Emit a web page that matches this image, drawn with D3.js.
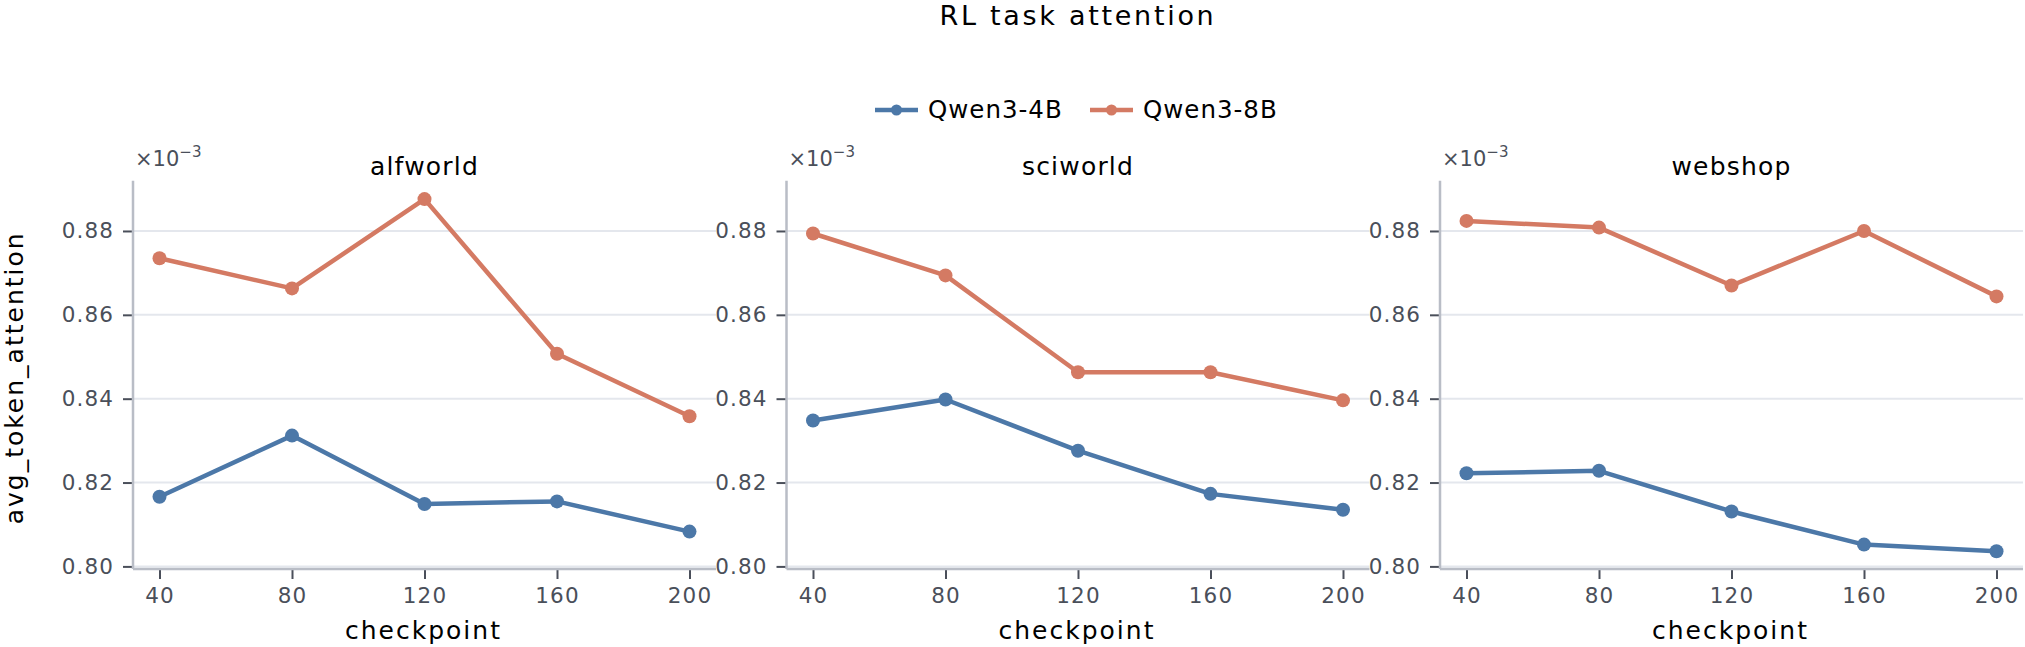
<!DOCTYPE html>
<html>
<head>
<meta charset="utf-8">
<script src="https://cdn.jsdelivr.net/npm/d3@7"></script>
<style>
  body { margin: 0; background: #fff; }
  svg { display: block; font-family: "DejaVu Sans", sans-serif; }
</style>
</head>
<body>
<svg id="svg1" width="2025" height="647"></svg>
<script>
// data (values shown in units of 1e-3)
var checkpoints = [40, 80, 120, 160, 200];
var tasks = ['alfworld', 'sciworld', 'webshop'];
var models = ['Qwen3-4B', 'Qwen3-8B'];

var alfworld4B = [0.8166, 0.8312, 0.8149, 0.8155, 0.8083];
var alfworld8B = [0.8735, 0.8663, 0.8876, 0.8507, 0.8358];
var sciworld4B = [0.8348, 0.8398, 0.8276, 0.8173, 0.8135];
var sciworld8B = [0.8794, 0.8694, 0.8463, 0.8463, 0.8396];
var webshop4B = [0.8222, 0.8228, 0.8131, 0.8052, 0.8036];
var webshop8B = [0.8824, 0.8808, 0.8670, 0.8800, 0.8644];

var yTicks = [0.80, 0.82, 0.84, 0.86, 0.88];

var seriesByTask = {
  alfworld: [alfworld4B, alfworld8B],
  sciworld: [sciworld4B, sciworld8B],
  webshop: [webshop4B, webshop8B]
};

var colors = ['#4c78a8', '#d47a63'];

var svg = d3.select('svg');

var panelLeft = 133, panelStep = 653.5, panelW = 583;
var plotTop = 180.7, plotH = 388.3;

var x = d3.scaleLinear().domain([32, 208]).range([0, panelW]);
var y = d3.scaleLinear().domain([0.79938, 0.89199]).range([plotH, 0]);

var line = d3.line()
    .x(function(d, i){ return x(checkpoints[i]); })
    .y(function(d){ return y(d); });

// main title
svg.append('text')
    .attr('x', 1078).attr('y', 25)
    .attr('text-anchor', 'middle')
    .style('font-size', '27px')
    .style('letter-spacing', '2.7px')
    .text('RL task attention');

// legend
var legend = svg.selectAll('.legend')
    .data(models)
    .enter()
    .append('g')
    .attr('class', 'legend')
    .attr('transform', function(d, i){ return 'translate(' + (875 + i * 215) + ',110)'; });

legend.append('line')
    .attr('x1', 0).attr('x2', 43)
    .attr('stroke', function(d, i){ return colors[i]; })
    .attr('stroke-width', 4.5);
legend.append('circle')
    .attr('cx', 21.5).attr('r', 5.5)
    .attr('fill', function(d, i){ return colors[i]; });
legend.append('text')
    .attr('x', 53).attr('y', 8)
    .style('font-size', '24.5px')
    .style('letter-spacing', '1px')
    .text(function(d){ return d; });

tasks.forEach(function(task, ti){
    var g = svg.append('g')
        .attr('transform', 'translate(' + (panelLeft + ti * panelStep) + ',' + plotTop + ')');

    // grid
    g.selectAll('.grid')
        .data(yTicks)
        .enter()
        .append('line')
        .attr('x1', 0).attr('x2', panelW)
        .attr('y1', function(d){ return y(d); })
        .attr('y2', function(d){ return y(d); })
        .attr('stroke', '#e4e7ed')
        .attr('stroke-width', 2);

    // y axis
    var yAxis = g.append('g')
        .call(d3.axisLeft(y).tickValues(yTicks).tickFormat(d3.format('.2f')).tickSize(10).tickPadding(9));
    yAxis.select('.domain').remove();
    yAxis.selectAll('.tick line').attr('stroke', '#4a4f5a').attr('stroke-width', 2);
    yAxis.selectAll('.tick text')
        .attr('fill', '#4a4f5a')
        .style('font-size', '21.5px')
        .style('letter-spacing', '1.1px')
        .style('font-family', '"DejaVu Sans", sans-serif');

    // x axis
    var xAxis = g.append('g')
        .attr('transform', 'translate(0,' + plotH + ')')
        .call(d3.axisBottom(x).tickValues(checkpoints).tickSize(10).tickPadding(9));
    xAxis.select('.domain').remove();
    xAxis.selectAll('.tick line').attr('stroke', '#4a4f5a').attr('stroke-width', 2);
    xAxis.selectAll('.tick text')
        .attr('fill', '#4a4f5a')
        .style('font-size', '21.5px')
        .style('letter-spacing', '1.1px')
        .style('font-family', '"DejaVu Sans", sans-serif');

    // axis lines
    g.append('line')
        .attr('x1', 0).attr('x2', 0)
        .attr('y1', 0).attr('y2', plotH)
        .attr('stroke', '#b9bdc6').attr('stroke-width', 2.5);
    g.append('line')
        .attr('x1', 0).attr('x2', panelW)
        .attr('y1', plotH).attr('y2', plotH)
        .attr('stroke', '#b9bdc6').attr('stroke-width', 2.5);

    // lines and points
    seriesByTask[task].forEach(function(vals, si){
        g.append('path')
            .datum(vals)
            .attr('d', line)
            .attr('fill', 'none')
            .attr('stroke', colors[si])
            .attr('stroke-width', 4.5)
            .attr('stroke-linejoin', 'round');
        g.selectAll('.pt' + si)
            .data(vals)
            .enter()
            .append('circle')
            .attr('cx', function(d, i){ return x(checkpoints[i]); })
            .attr('cy', function(d){ return y(d); })
            .attr('r', 7)
            .attr('fill', colors[si]);
    });

    // subplot title
    g.append('text')
        .attr('x', panelW / 2).attr('y', -6)
        .attr('text-anchor', 'middle')
        .style('font-size', '25px')
        .style('letter-spacing', '1.2px')
        .text(task);

    // offset label
    var off = g.append('text')
        .attr('x', 2).attr('y', -15)
        .attr('fill', '#4a4f5a')
        .style('font-size', '21px');
    off.append('tspan').text('\u00d710');
    off.append('tspan').attr('dy', -9).style('font-size', '15px').text('\u22123');

    // x label
    g.append('text')
        .attr('x', panelW / 2 - 1).attr('y', plotH + 70)
        .attr('text-anchor', 'middle')
        .style('font-size', '25px')
        .style('letter-spacing', '2px')
        .text('checkpoint');
});

// y label
svg.append('text')
    .attr('transform', 'translate(23,' + (plotTop + plotH / 2 + 3) + ') rotate(-90)')
    .attr('text-anchor', 'middle')
    .style('font-size', '25px')
    .style('letter-spacing', '2px')
    .text('avg_token_attention');
</script>
</body>
</html>
